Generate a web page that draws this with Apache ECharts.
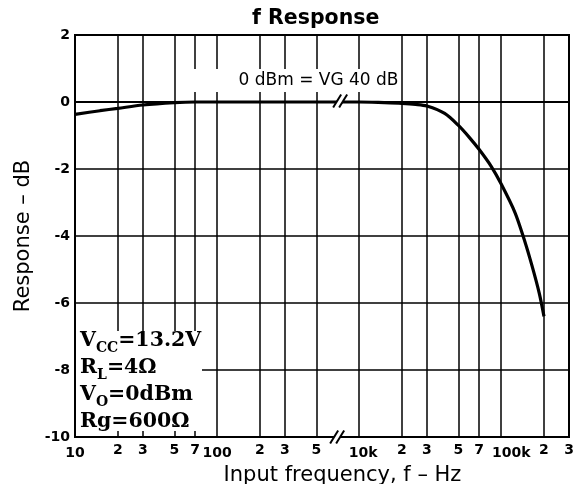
<!DOCTYPE html>
<html><head><meta charset="utf-8">
<script src="https://cdn.jsdelivr.net/npm/echarts@6/dist/echarts.min.js"></script>
<style>html,body{margin:0;padding:0;background:#fff}#c{width:586px;height:484px}</style>
</head><body><div id="c"></div>
<script>
// ---- data ----
const freqHz = [10, 15, 20, 30, 50, 70, 100, 200, 500, 10000, 15000, 20000, 25000, 30000, 40000, 50000, 60000, 70000, 85000, 100000, 125000, 145000, 165000, 185000, 200000];
const responseDb = [-0.37, -0.26, -0.19, -0.09, -0.02, 0, 0, 0, 0, 0, -0.02, -0.04, -0.07, -0.12, -0.34, -0.7, -1.07, -1.42, -1.92, -2.45, -3.3, -4.1, -4.9, -5.7, -6.4];
const gridFreqs = [20, 30, 50, 70, 100, 200, 300, 500, 10000, 20000, 30000, 50000, 70000, 100000, 200000];
const tickFreqs = [10, 20, 30, 50, 70, 100, 200, 300, 500, 10000, 20000, 30000, 50000, 70000, 100000, 200000, 300000];
const tickLabels = ['10', '2', '3', '5', '7', '100', '2', '3', '5', '10k', '2', '3', '5', '7', '100k', '2', '3'];
const decadeLabels = ['10', '100', '10k', '100k'];
const yMin = -10, yMax = 2, yStep = 2;
const breakHz = 700;
const titleText = 'f Response';
const xName = 'Input frequency, f \u2013 Hz';
const yName = 'Response \u2013 dB';
const noteText = '0 dBm = VG 40 dB';
const conditions = [['V', 'CC', '=13.2V'], ['R', 'L', '=4\u03a9'], ['V', 'O', '=0dBm'], ['Rg', '', '=600\u03a9']];

// axis with the 1k decade removed (axis break)
const toU = f => f >= 5000 ? Math.log10(f) - 1 : Math.log10(f);

const chart = echarts.init(document.getElementById('c'));
const lab = {fontFamily: 'DejaVu Sans', fontWeight: 'bold', fontSize: 14, color: '#000', lineHeight: 16};
chart.setOption({
  animation: false,
  title: {text: titleText, left: 252, top: 8, padding: 0,
    textStyle: {fontFamily: 'DejaVu Sans', fontWeight: 'bold', fontSize: 20.5, color: '#000'}},
  grid: {left: 75, top: 35, width: 494, height: 402, show: true, borderColor: '#000', borderWidth: 2,
    backgroundColor: 'transparent', outerBoundsMode: 'none', containLabel: false},
  xAxis: {
    type: 'value', min: toU(10), max: toU(300000),
    name: xName, nameLocation: 'middle', nameGap: 27,
    nameTextStyle: {fontFamily: 'DejaVu Sans', fontSize: 21, color: '#000', padding: [0, 0, 0, 41]},
    axisLine: {show: true, lineStyle: {color: '#000', width: 2}},
    axisTick: {show: false, customValues: gridFreqs.map(toU)},
    splitLine: {show: true, lineStyle: {color: '#000', width: 1.5}},
    axisLabel: {
      customValues: tickFreqs.map(toU), showMinLabel: true, showMaxLabel: true, hideOverlap: false, margin: 5,
      formatter: function (v) {
        const i = tickFreqs.findIndex(f => Math.abs(toU(f) - v) < 1e-6);
        if (i < 0) return '';
        const t = tickLabels[i];
        if (t === '10k') return '{k1|' + t + '}';
        if (t === '100k') return '{k2|' + t + '}';
        if (decadeLabels.includes(t)) return '{d|' + t + '}';
        return '{m|' + t + '}';
      },
      rich: {
        m: lab,
        d: Object.assign({}, lab, {padding: [6, 0, 0, 0]}),
        k1: Object.assign({}, lab, {padding: [6, 0, 0, 8]}),
        k2: Object.assign({}, lab, {padding: [6, 0, 0, 20]})
      }
    }
  },
  yAxis: {
    type: 'value', min: yMin, max: yMax, interval: yStep,
    name: yName, nameLocation: 'middle', nameGap: 37, nameRotate: 90,
    nameTextStyle: {fontFamily: 'DejaVu Sans', fontSize: 21, color: '#000'},
    axisLine: {show: true, lineStyle: {color: '#000', width: 2}},
    axisTick: {show: false},
    splitLine: {show: true, lineStyle: {color: '#000', width: 1.5}},
    axisLabel: {margin: 5, fontFamily: 'DejaVu Sans', fontWeight: 'bold', fontSize: 14, color: '#000',
      formatter: v => (v < 0 ? '-' + (-v) : String(v))}
  },
  series: [{
    type: 'line', showSymbol: false, smooth: 0.3,
    lineStyle: {color: '#000', width: 3.2}, z: 5,
    data: freqHz.map((f, i) => [toU(f), responseDb[i]])
  }]
});

const P = (f, y) => chart.convertToPixel({gridIndex: 0}, [toU(f), y]);
function breakMark(cx, cy) {
  const h = 6.5, s = 4, gap = 6;
  const a = [cx - gap / 2 - s, cy + h], b = [cx - gap / 2 + s, cy - h];
  const c = [cx + gap / 2 - s, cy + h], d = [cx + gap / 2 + s, cy - h];
  return [
    {type: 'polygon', shape: {points: [a, b, d, c]}, style: {fill: '#fff'}, z: 60},
    {type: 'line', shape: {x1: a[0], y1: a[1], x2: b[0], y2: b[1]}, style: {stroke: '#000', lineWidth: 2}, z: 61},
    {type: 'line', shape: {x1: c[0], y1: c[1], x2: d[0], y2: d[1]}, style: {stroke: '#000', lineWidth: 2}, z: 61}
  ];
}
const g = [];
const bAxis = P(breakHz, yMin), bCurve = P(breakHz, 0);
g.push(...breakMark(bAxis[0], bAxis[1]));
g.push(...breakMark(bCurve[0] + 3, bCurve[1] - 1));
// note label
g.push({type: 'rect', shape: {x: 190, y: 69, width: 210, height: 23}, style: {fill: '#fff'}, z: 50});
g.push({type: 'text', x: 318.5, y: 80.5, style: {text: noteText, fontFamily: 'DejaVu Sans', fontSize: 17, fill: '#000', align: 'center', verticalAlign: 'middle'}, z: 51});
// conditions box
g.push({type: 'rect', shape: {x: 76, y: 331, width: 126, height: 100}, style: {fill: '#fff'}, z: 50});
const serif = {fontFamily: 'DejaVu Serif', fontWeight: 'bold', fontSize: 20.5, lineHeight: 25};
conditions.forEach((c, i) => {
  const txt = '{a|' + c[0] + '}' + (c[1] ? '{s|' + c[1] + '}' : '') + '{a|' + c[2] + '}';
  g.push({type: 'text', x: 80, y: 341 + i * 27, z: 51,
    style: {text: txt, verticalAlign: 'middle', align: 'left',
      rich: {a: Object.assign({fill: '#000'}, serif),
             s: {fontFamily: 'DejaVu Serif', fontWeight: 'bold', fontSize: 14, lineHeight: 16, padding: [14, 0, 0, 0], fill: '#000'}}}});
});
chart.setOption({graphic: {elements: g}});
</script>
</body></html>
